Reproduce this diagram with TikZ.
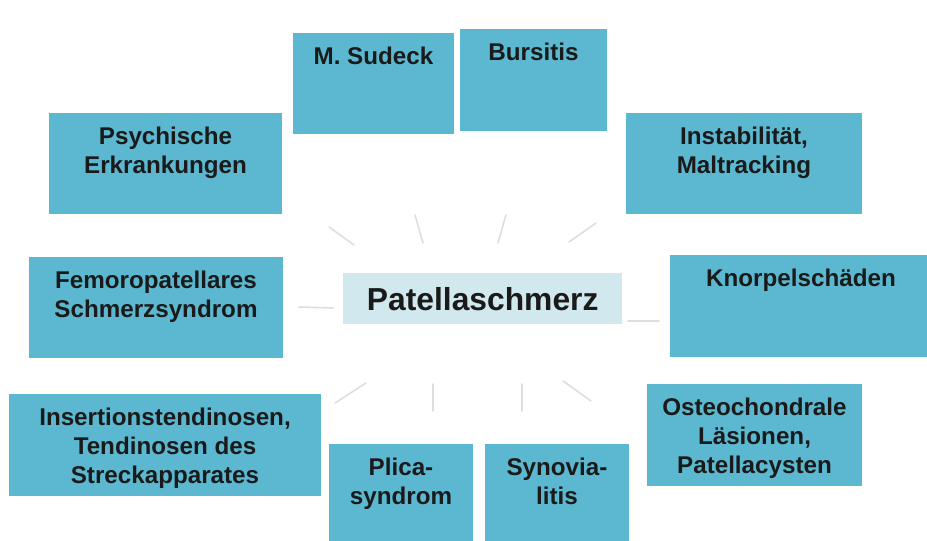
\documentclass[tikz,border=0pt]{standalone}
\usepackage{fontspec}
\setmainfont{Liberation Sans}
\definecolor{boxblue}{RGB}{91,184,208}
\definecolor{centerblue}{RGB}{208,232,238}
\definecolor{txt}{RGB}{26,26,26}
\definecolor{spokegray}{RGB}{222,222,222}
\tikzset{
  boxnode/.style={anchor=north west, fill=boxblue, draw=none, inner sep=0pt, outer sep=0pt},
  lbl/.style={anchor=north, inner sep=0pt, outer sep=0pt, align=center, text=txt,
    font=\fontsize{24.2}{29}\selectfont\bfseries},
  spoke/.style={draw=spokegray, line width=1.6pt, line cap=round},
}
\begin{document}
\begin{tikzpicture}[x=1pt,y=-1pt]
\useasboundingbox (0,0) rectangle (927,541);
\clip (0,0) rectangle (927,541);
% boxes
\node[boxnode, minimum width=161pt, minimum height=101pt] (sudeck) at (293,33) {};
\node[boxnode, minimum width=147pt, minimum height=102pt] (bursitis) at (460,29) {};
\node[boxnode, minimum width=233pt, minimum height=101pt] (psych) at (49,113) {};
\node[boxnode, minimum width=236pt, minimum height=101pt] (instab) at (626,113) {};
\node[boxnode, minimum width=254pt, minimum height=101pt] (femoro) at (29,257) {};
\node[boxnode, minimum width=262pt, minimum height=102pt] (knorpel) at (670,255) {};
\node[boxnode, minimum width=312pt, minimum height=102pt] (insert) at (9,394) {};
\node[boxnode, minimum width=215pt, minimum height=102pt] (osteo) at (647,384) {};
\node[boxnode, minimum width=144pt, minimum height=110pt] (plica) at (329,444) {};
\node[boxnode, minimum width=144pt, minimum height=110pt] (synovia) at (485,444) {};
% center
\node[anchor=north west, fill=centerblue, inner sep=0pt, minimum width=279pt, minimum height=51pt,
      text=txt, font=\fontsize{31.8}{36}\selectfont\bfseries] (center) at (343,273) {Patellaschmerz};
% labels
\node[lbl] (sudeck-t) at ([yshift=-10.7pt]sudeck.north) {\strut M. Sudeck};
\node[lbl] (bursitis-t) at ([yshift=-10.7pt]bursitis.north) {\strut Bursitis};
\node[lbl] (psych-t) at ([yshift=-10.7pt]psych.north) {\strut Psychische\\Erkrankungen};
\node[lbl] (instab-t) at ([yshift=-10.7pt]instab.north) {\strut Instabilität,\\Maltracking};
\node[lbl] (femoro-t) at ([yshift=-10.7pt]femoro.north) {\strut Femoropatellares\\Schmerzsyndrom};
\node[lbl] (knorpel-t) at ([yshift=-10.7pt]knorpel.north) {\strut Knorpelschäden};
\node[lbl] (insert-t) at ([yshift=-10.7pt]insert.north) {\strut Insertionstendinosen,\\Tendinosen des\\Streckapparates};
\node[lbl] (osteo-t) at ([yshift=-10.7pt]osteo.north) {\strut Osteochondrale\\Läsionen,\\Patellacysten};
\node[lbl] (plica-t) at ([yshift=-10.7pt]plica.north) {\strut Plica-\\syndrom};
\node[lbl] (synovia-t) at ([yshift=-10.7pt]synovia.north) {\strut Synovia-\\litis};
% spokes
\draw[spoke] (329,227) -- (354,245);
\draw[spoke] (415,215) -- (423,243);
\draw[spoke] (506,215) -- (498,243);
\draw[spoke] (596,223) -- (569,242);
\draw[spoke] (299,307) -- (333,308);
\draw[spoke] (628,321) -- (659,321);
\draw[spoke] (366,383) -- (335,403);
\draw[spoke] (433,384) -- (433,411);
\draw[spoke] (522,384) -- (522,411);
\draw[spoke] (563,381) -- (591,401);
\end{tikzpicture}
\end{document}
